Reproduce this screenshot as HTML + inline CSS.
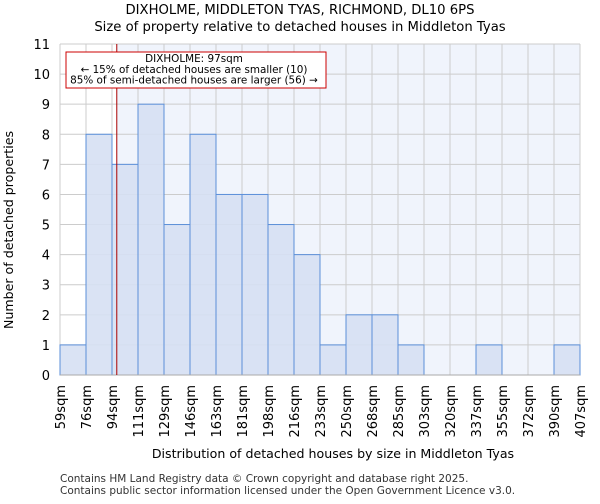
<!DOCTYPE html>
<html><head><meta charset="utf-8"><style>
body{margin:0;background:#fff;font-family:"DejaVu Sans","Liberation Sans",sans-serif;}
</style></head><body>
<svg width="600" height="500" xmlns="http://www.w3.org/2000/svg" font-family="DejaVu Sans, Liberation Sans, sans-serif">
<text x="300" y="14" text-anchor="middle" font-size="13.2">DIXHOLME, MIDDLETON TYAS, RICHMOND, DL10 6PS</text>
<text x="300" y="31" text-anchor="middle" font-size="13.2">Size of property relative to detached houses in Middleton Tyas</text>
<g id="plot"></g>
<text x="333" y="458" text-anchor="middle" font-size="12.6">Distribution of detached houses by size in Middleton Tyas</text>
<text transform="translate(13,230) rotate(-90)" text-anchor="middle" font-size="12.6">Number of detached properties</text>
<text x="60" y="482" font-size="10.5" fill="#333">Contains HM Land Registry data © Crown copyright and database right 2025.</text>
<text x="60" y="494" font-size="10.5" fill="#333">Contains public sector information licensed under the Open Government Licence v3.0.</text>
</svg>
<script>
const binLabels=["59sqm","76sqm","94sqm","111sqm","129sqm","146sqm","163sqm","181sqm","198sqm","216sqm","233sqm","250sqm","268sqm","285sqm","303sqm","320sqm","337sqm","355sqm","372sqm","390sqm","407sqm"];
const binEdges=[59,76.4,93.8,111.2,128.6,146,163.4,180.8,198.2,215.6,233,250.4,267.8,285.2,302.6,320,337.4,354.8,372.2,389.6,407];
const counts=[1,8,7,9,5,8,6,6,5,4,1,2,2,1,0,0,1,0,0,1];
const yTicks=[0,1,2,3,4,5,6,7,8,9,10,11];
const propertySize=97;
const NS="http://www.w3.org/2000/svg";
const L=60,R=580,T=44,B=375;
const x=v=>L+(v-binEdges[0])/(binEdges[binEdges.length-1]-binEdges[0])*(R-L);
const y=v=>B-v/11*(B-T);
const g=document.getElementById('plot');
function mk(t,a){const e=document.createElementNS(NS,t);for(const k in a)e.setAttribute(k,a[k]);g.appendChild(e);return e;}
let px=x(propertySize);
let e=mk('rect',{x:L,y:T,width:px-L,height:B-T,fill:'#ffffff'});


e=mk('rect',{x:px,y:T,width:R-px,height:B-T,fill:'#f0f4fc'});


yTicks.forEach(t=>{
 let l=mk('line',{x1:L,x2:R,y1:y(t),y2:y(t),stroke:'#cccccc','stroke-width':1});
 
 
 let tx=mk('text',{x:L-10,y:y(t)+5,'text-anchor':'end','font-size':13});
 tx.textContent=t;
 
 
});
binEdges.forEach((b,i)=>{
 let l=mk('line',{x1:x(b),x2:x(b),y1:T,y2:B,stroke:'#cccccc','stroke-width':1});
 
 
 let xx=x(b);
 let tx=mk('text',{transform:`translate(${xx+5},${B+10}) rotate(-90)`,'text-anchor':'end','font-size':13});
 tx.textContent=binLabels[i];
 
 
});
counts.forEach((c,i)=>{
 if(c<=0)return;
 let r=mk('rect',{x:x(binEdges[i]),y:y(c),width:x(binEdges[i+1])-x(binEdges[i]),height:y(0)-y(c),fill:'#d6e0f3','fill-opacity':0.9,stroke:'#5b8fd9','stroke-width':1});
 
 
});
e=mk('line',{x1:L,x2:R,y1:B,y2:B,stroke:'#aaaaaa'});


e=mk('line',{x1:px,x2:px,y1:T,y2:B,stroke:'#aa0000','stroke-width':1});


e=mk('rect',{x:66,y:52,width:260,height:36,fill:'#fff',stroke:'#cc0000','stroke-width':1});


const ann=["DIXHOLME: 97sqm","← 15% of detached houses are smaller (10)","85% of semi-detached houses are larger (56) →"];
ann.forEach((s,i)=>{
 let t=mk('text',{x:194,y:62+i*10.8,'text-anchor':'middle','font-size':10.4});
 t.textContent=s;
 
 
});
</script>
</body></html>
